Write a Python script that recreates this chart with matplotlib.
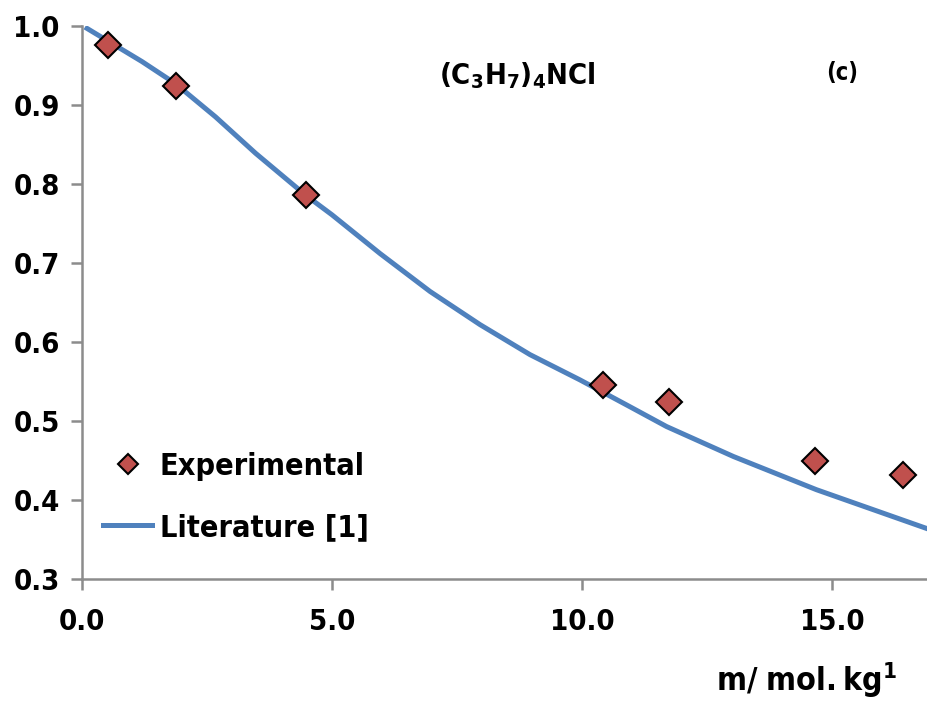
import matplotlib
matplotlib.use("Agg")
import matplotlib.pyplot as plt

# experimental points
m_exp = [0.52, 1.88, 4.48, 10.42, 11.74, 14.66, 16.42]
phi_exp = [0.976, 0.924, 0.786, 0.546, 0.524, 0.449, 0.432]

# literature curve
m_lit = [0.1, 1.2, 1.87, 2.67, 3.47, 4.47, 5.0, 5.96, 6.96, 7.96, 8.96, 9.96,
         10.96, 11.69, 13.03, 14.69, 16.89]
phi_lit = [0.997, 0.955, 0.927, 0.885, 0.839, 0.786, 0.761, 0.712, 0.664, 0.622,
           0.584, 0.552, 0.518, 0.493, 0.455, 0.413, 0.364]

xticks = [0, 5, 10, 15]
yticks = [0.3, 0.4, 0.5, 0.6, 0.7, 0.8, 0.9, 1.0]

plt.rcParams['font.family'] = ["DejaVu Sans"]
plt.rcParams['font.stretch'] = 'condensed'
plt.rcParams['mathtext.fontset'] = 'custom'
plt.rcParams['mathtext.rm'] = 'DejaVu Sans:bold'
plt.rcParams['mathtext.bf'] = 'DejaVu Sans:bold'

fig = plt.figure(figsize=(9.27, 7.04), dpi=100)
ax = fig.add_axes([0.0885, 0.1776, 0.9115, 0.7854])

ax.plot(m_lit, phi_lit, color="#4F81BD", lw=3.6, label="Literature [1]", zorder=2,
        solid_joinstyle="round")
ax.plot(m_exp, phi_exp, ls="none", marker="D", ms=13, mfc="#C0504D", mec="black",
        mew=1.5, label="Experimental", zorder=3)

ax.set_xlim(0, 16.9)
ax.set_ylim(0.3, 1.0)
ax.set_xticks(xticks)
ax.set_xticklabels(["%.1f" % v for v in xticks])
ax.set_yticks(yticks)
ax.set_yticklabels(["%.1f" % v for v in yticks])

for s in ["top", "right"]:
    ax.spines[s].set_visible(False)
for s in ["left", "bottom"]:
    ax.spines[s].set_color("#8c8c8c")
    ax.spines[s].set_linewidth(1.8)

ax.tick_params(axis="both", colors="#8c8c8c", width=1.8, length=8, labelcolor="black",
               labelsize=21)
ax.tick_params(axis="x", pad=13)
ax.tick_params(axis="y", pad=8)
for lab in ax.get_xticklabels() + ax.get_yticklabels():
    lab.set_fontweight("bold")

ax.text(0.515, 0.91, r"$\mathbf{(C_3H_7)_4NCl}$", transform=ax.transAxes,
        ha="center", va="center", fontsize=21)
ax.text(0.9, 0.915, "(c)", transform=ax.transAxes, ha="center", va="center",
        fontsize=17, fontweight="bold")
fig.text(0.87, 0.034, r"$\mathbf{m/\ mol.kg^{1}}$", ha="center", va="center", fontsize=23)

h, l = ax.get_legend_handles_labels()
leg = ax.legend(h[::-1], l[::-1], loc="lower left", bbox_to_anchor=(0.025, 0.067),
                frameon=False, prop={"size": 22, "weight": "bold"}, borderpad=0,
                borderaxespad=0, markerscale=0.75,
                handlelength=1.6, handletextpad=0.25, labelspacing=1.06)

fig.savefig("out.png", dpi=100)
